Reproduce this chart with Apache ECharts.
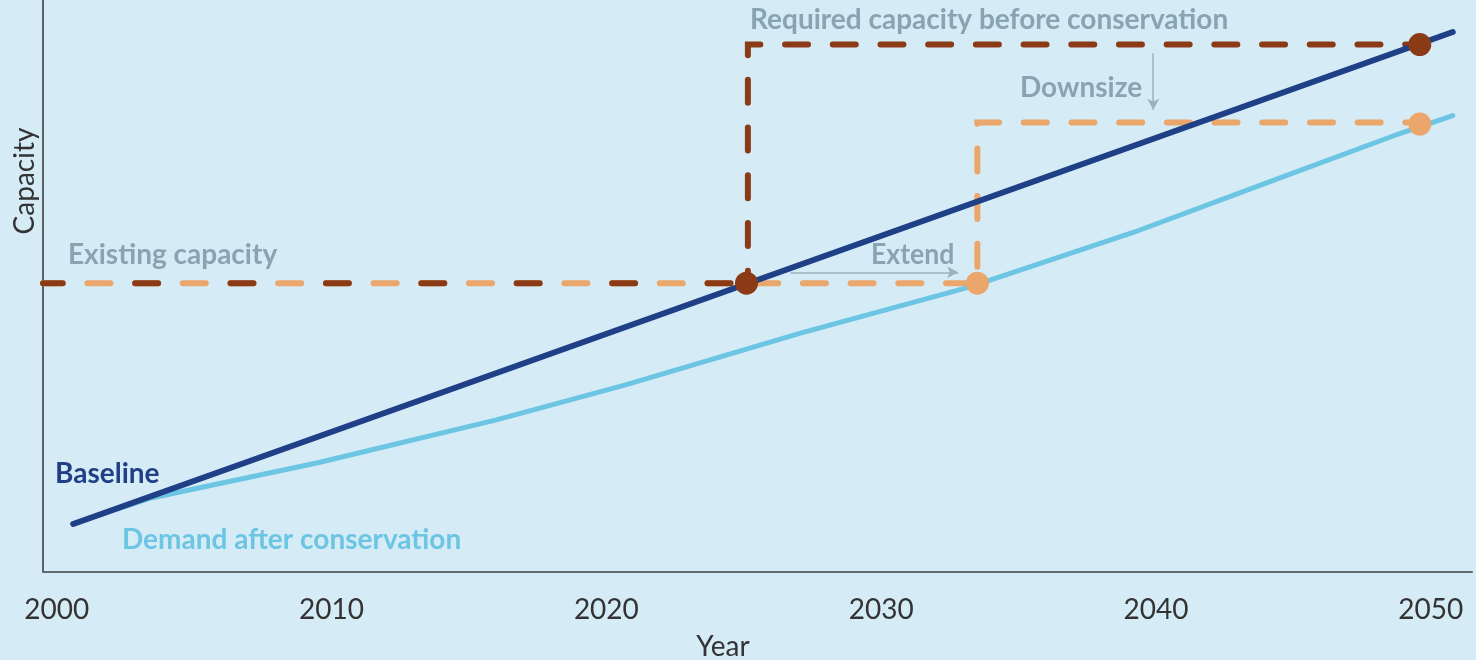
<!DOCTYPE html>
<html>
<head>
<meta charset="utf-8">
<script src="https://cdn.jsdelivr.net/npm/echarts@6/dist/echarts.min.js"></script>
<style>
html,body{margin:0;padding:0;background:#d5ebf6;}
#chart{width:1476px;height:660px;}
</style>
</head>
<body>
<div id="chart"></div>
<script>
// ---- data (years on x, relative capacity on y) ----
const tickYears = [2000, 2010, 2020, 2030, 2040, 2050];
const baselineYears = [2000.6, 2050.8];
const baselineValues = [8.4, 94.4];
const demandYears = [2000.6, 2003.4, 2009.5, 2016.0, 2020.7, 2027.1, 2033.2, 2039.2, 2044.0, 2048.9, 2050.8];
const demandValues = [8.4, 12.9, 19.1, 26.6, 32.7, 41.8, 49.8, 59.4, 68.0, 76.7, 79.8];
const existingCapacity = 50.5;
const requiredCapacity = 92.2;
const downsizedCapacity = 78.6;
const startYear = 1999.5;
const needYearBaseline = 2025.15;
const needYearConservation = 2033.5;
const planYear = 2049.6;
const extendArrowYears = [2026.7, 2032.8];
const extendArrowValue = 52.4;
const downsizeArrowYear = 2039.9;
const downsizeArrowValues = [90.7, 80.8];

const zip = (xs, ys) => xs.map((x, i) => [x, ys[i]]);

const DARK = '#8b3a16';
const LIGHT = '#eba66b';
const NAVY = '#1f3f86';
const SKY = '#6cc5e3';
const NOTE = '#8aa3b1';
const NOTE_FONT = 'bold 28px Lato';

const chart = echarts.init(document.getElementById('chart'));
chart.setOption({
  backgroundColor: '#d5ebf6',
  animation: false,
  grid: { left: 43, right: 4, top: 0, bottom: 88, containLabel: false },
  xAxis: {
    type: 'value', min: startYear, max: 2051.5,
    axisLine: { show: true, lineStyle: { color: '#5e6b70', width: 2 } },
    axisTick: { show: false },
    splitLine: { show: false },
    axisLabel: {
      customValues: tickYears,
      fontFamily: 'Lato', fontSize: 28, color: '#333',
      verticalAlign: 'middle', margin: 38,
      formatter: v => String(Math.round(v))
    }
  },
  yAxis: {
    type: 'value', min: 0, max: 100,
    axisLine: { show: true, lineStyle: { color: '#333', width: 1.5 } },
    axisTick: { show: false },
    axisLabel: { show: false },
    splitLine: { show: false }
  },
  series: [
    {
      name: 'after conservation plan', type: 'line', showSymbol: false, silent: true, z: 2,
      data: [[startYear, existingCapacity], [needYearConservation, existingCapacity],
             [needYearConservation, downsizedCapacity], [planYear, downsizedCapacity]],
      lineStyle: { color: LIGHT, width: 6, type: [23, 24.7], dashOffset: 3.3, cap: 'round', join: 'miter' },
      markLine: {
        silent: true, symbol: ['none', 'arrow'], symbolSize: [9, 11], label: { show: false },
        lineStyle: { color: '#9db2bf', width: 1.5, type: 'solid' },
        data: [
          [{ coord: [extendArrowYears[0], extendArrowValue] }, { coord: [extendArrowYears[1], extendArrowValue] }],
          [{ coord: [downsizeArrowYear, downsizeArrowValues[0]] }, { coord: [downsizeArrowYear, downsizeArrowValues[1]] }]
        ]
      }
    },
    {
      name: 'existing', type: 'line', showSymbol: false, silent: true, z: 3,
      data: [[startYear, existingCapacity], [needYearBaseline, existingCapacity]],
      lineStyle: { color: DARK, width: 6, type: [23, 72.4], dashOffset: 3.3, cap: 'round' }
    },
    {
      name: 'required', type: 'line', showSymbol: false, silent: true, z: 3,
      data: [[needYearBaseline, existingCapacity], [needYearBaseline, requiredCapacity], [planYear, requiredCapacity]],
      lineStyle: { color: DARK, width: 6, type: [23, 24.7], dashOffset: 10.5, cap: 'round', join: 'miter' }
    },
    {
      name: 'Baseline', type: 'line', showSymbol: false, silent: true, z: 5,
      data: zip(baselineYears, baselineValues),
      lineStyle: { color: NAVY, width: 6, cap: 'round' }
    },
    {
      name: 'Demand after conservation', type: 'line', showSymbol: false, silent: true, z: 4,
      smooth: false,
      data: zip(demandYears, demandValues),
      lineStyle: { color: SKY, width: 5, cap: 'round', join: 'round' }
    },
    {
      name: 'dark points', type: 'scatter', silent: true, z: 6, symbol: 'circle', symbolSize: 23,
      itemStyle: { color: DARK, opacity: 1 },
      data: [[needYearBaseline - 0.05, existingCapacity], [planYear, requiredCapacity]]
    },
    {
      name: 'light points', type: 'scatter', silent: true, z: 6, symbol: 'circle', symbolSize: 23,
      itemStyle: { color: LIGHT, opacity: 1 },
      data: [[needYearConservation, existingCapacity], [planYear, downsizedCapacity - 0.3]]
    }
  ],
  graphic: [
    { type: 'text', x: 25, y: 181, rotation: Math.PI / 2,
      style: { text: 'Capacity', font: '28px Lato', fill: '#333', align: 'center', verticalAlign: 'middle' } },
    { type: 'text', x: 723, y: 647,
      style: { text: 'Year', font: '28px Lato', fill: '#333', align: 'center', verticalAlign: 'middle' } },
    { type: 'text', x: 68, y: 255,
      style: { text: 'Existing capacity', font: NOTE_FONT, fill: NOTE, align: 'left', verticalAlign: 'middle' } },
    { type: 'text', x: 750, y: 20,
      style: { text: 'Required capacity before conservation', font: NOTE_FONT, fill: NOTE, align: 'left', verticalAlign: 'middle' } },
    { type: 'text', x: 1020, y: 88,
      style: { text: 'Downsize', font: NOTE_FONT, fill: NOTE, align: 'left', verticalAlign: 'middle' } },
    { type: 'text', x: 871, y: 255, scaleX: 0.95,
      style: { text: 'Extend', font: NOTE_FONT, fill: NOTE, align: 'left', verticalAlign: 'middle' } },
    { type: 'text', x: 55, y: 474,
      style: { text: 'Baseline', font: NOTE_FONT, fill: NAVY, align: 'left', verticalAlign: 'middle' } },
    { type: 'text', x: 122, y: 540,
      style: { text: 'Demand after conservation', font: NOTE_FONT, fill: SKY, align: 'left', verticalAlign: 'middle' } }
  ]
});
</script>
</body>
</html>
